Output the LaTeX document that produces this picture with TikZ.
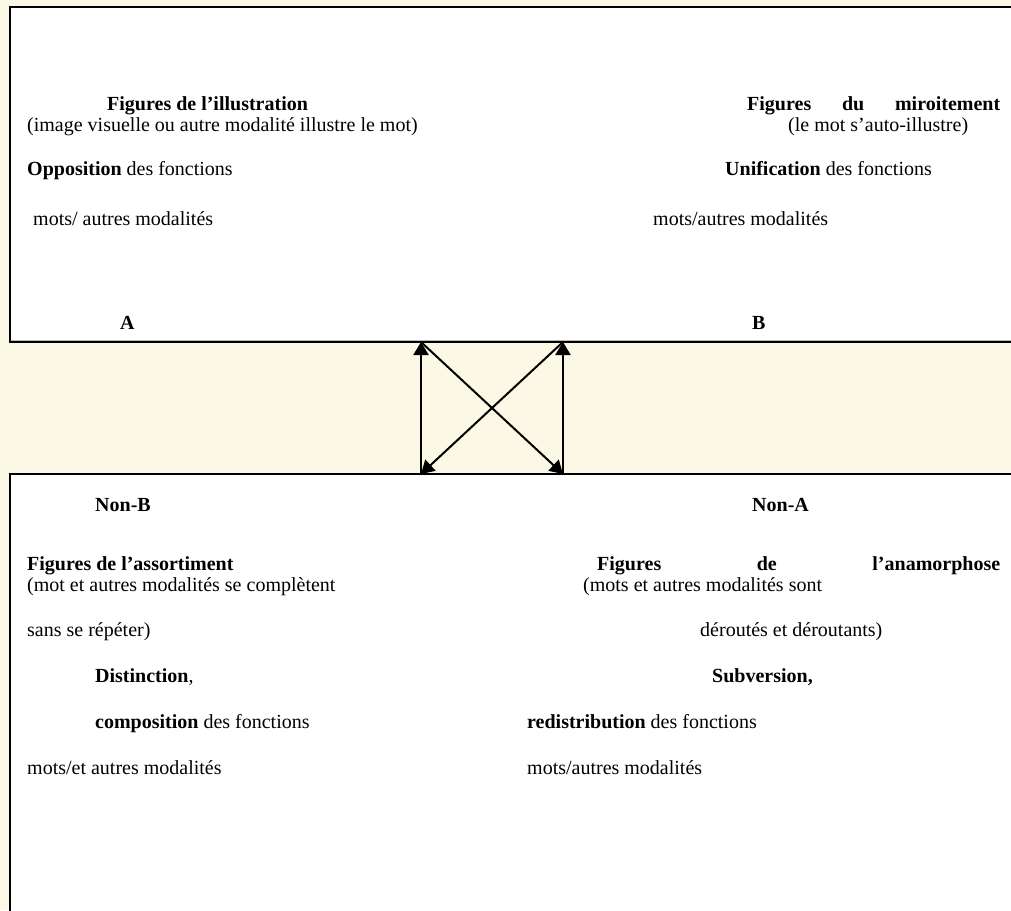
\documentclass[tikz,border=0pt]{standalone}
\usepackage{fontspec}
\setmainfont{Liberation Serif}
\usetikzlibrary{arrows.meta}
\definecolor{cream}{HTML}{FCF8E6}
\tikzset{
  txt/.style={anchor=base west, inner sep=0pt, font=\fontsize{20}{23}\selectfont},
  conn/.style={line width=2pt, -{Triangle[length=13pt,width=15pt]}},
  boxline/.style={line width=2.2pt, draw=black}
}
\begin{document}
\begin{tikzpicture}[x=1pt,y=-1pt]
\useasboundingbox (0,0) rectangle (1011,910);
\fill[cream] (0,0) rectangle (1011,910);
% boxes
\fill[white] (10,7) rectangle (1013,342);
\draw[gray!55, line width=1.2pt] (10,340.3) -- (1013,340.3);
\draw[boxline] (1013,7) -- (10,7) -- (10,342) -- (1013,342);
\fill[white] (10,474) rectangle (1013,912);
\draw[boxline] (10,912) -- (10,474) -- (1013,474);
% corners
\coordinate (tl) at (421,342);
\coordinate (tr) at (563,342);
\coordinate (bl) at (421,474);
\coordinate (br) at (563,474);
\draw[conn] (bl) -- (tl);
\draw[conn] (br) -- (tr);
\draw[conn] (tl) -- (br);
\draw[conn] (tr) -- (bl);
% top left
\node[txt] (t1) at (107,110) {\textbf{Figures de l’illustration}};
\node[txt] (t2) at (27,131) {(image visuelle ou autre modalité illustre le mot)};
\node[txt] (t3) at (27,175) {\textbf{Opposition} des fonctions};
\node[txt] (t4) at (33,225) {mots/ autres modalités};
\node[txt] (t5) at (120,329) {\textbf{A}};
% top right
\node[txt] (r1) at (747,110) {\makebox[253pt][s]{\textbf{Figures du miroitement}}};
\node[txt] (r2) at (788,131) {(le mot s’auto-illustre)};
\node[txt] (r3) at (725,175) {\textbf{Unification} des fonctions};
\node[txt] (r4) at (653,225) {mots/autres modalités};
\node[txt] (r5) at (752,329) {\textbf{B}};
% bottom left
\node[txt] (b1) at (95,511) {\textbf{Non-B}};
\node[txt] (b2) at (27,570) {\textbf{Figures de l’assortiment}};
\node[txt] (b3) at (27,591) {(mot et autres modalités se complètent};
\node[txt] (b4) at (27,636) {sans se répéter)};
\node[txt] (b5) at (95,682) {\textbf{Distinction},};
\node[txt] (b6) at (95,728) {\textbf{composition} des fonctions};
\node[txt] (b7) at (27,774) {mots/et autres modalités};
% bottom right
\node[txt] (c1) at (752,511) {\textbf{Non-A}};
\node[txt] (c2) at (597,570) {\makebox[403pt][s]{\textbf{Figures de l’anamorphose}}};
\node[txt] (c3) at (583,591) {(mots et autres modalités sont};
\node[txt] (c4) at (700,636) {déroutés et déroutants)};
\node[txt] (c5) at (712,682) {\textbf{Subversion,}};
\node[txt] (c6) at (527,728) {\textbf{redistribution} des fonctions};
\node[txt] (c7) at (527,774) {mots/autres modalités};
\end{tikzpicture}
\end{document}
